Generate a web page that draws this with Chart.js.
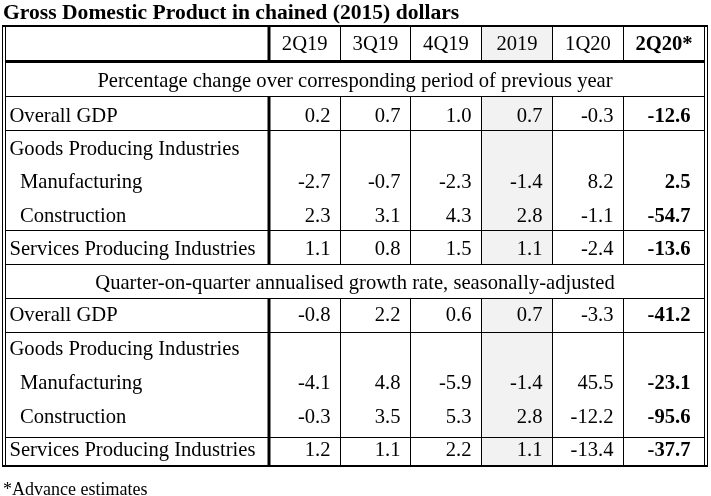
<!DOCTYPE html>
<html><head><meta charset="utf-8">
<script src="https://cdn.jsdelivr.net/npm/chart.js@4"></script>
<style>html,body{margin:0;padding:0;background:#fff}#wrap{width:711px;height:496px}</style>
</head><body><div id="wrap"><canvas id="c" width="711" height="496"></canvas></div>
<script>
// ---------- DATA ----------
const title = 'Gross Domestic Product in chained (2015) dollars';
const footnote = '*Advance estimates';
const columns = ['2Q19', '3Q19', '4Q19', '2019', '1Q20', '2Q20*'];
const sections = [
  'Percentage change over corresponding period of previous year',
  'Quarter-on-quarter annualised growth rate, seasonally-adjusted'
];
const rowLabels = ['Overall GDP', 'Goods Producing Industries', 'Manufacturing', 'Construction', 'Services Producing Industries'];
const yoyOverall       = [0.2, 0.7, 1.0, 0.7, -0.3, -12.6];
const yoyManufacturing = [-2.7, -0.7, -2.3, -1.4, 8.2, 2.5];
const yoyConstruction  = [2.3, 3.1, 4.3, 2.8, -1.1, -54.7];
const yoyServices      = [1.1, 0.8, 1.5, 1.1, -2.4, -13.6];
const qoqOverall       = [-0.8, 2.2, 0.6, 0.7, -3.3, -41.2];
const qoqManufacturing = [-4.1, 4.8, -5.9, -1.4, 45.5, -23.1];
const qoqConstruction  = [-0.3, 3.5, 5.3, 2.8, -12.2, -95.6];
const qoqServices      = [1.2, 1.1, 2.2, 1.1, -13.4, -37.7];

// ---------- LAYOUT (scale units) ----------
const colEdges = [5.5, 269, 340.5, 410.5, 481.5, 552.5, 623.5, 704.5];
const shadedCol = 3;
const FONT = '"Liberation Serif", "Times New Roman", serif';
const BODY = '20.6px ';

function buildRows() {
  return [
    {type: 'section', text: sections[0], baseline: 87},
    {label: rowLabels[0], values: yoyOverall, baseline: 121.5, indent: 0},
    {label: rowLabels[1], values: null, baseline: 155, indent: 0},
    {label: rowLabels[2], values: yoyManufacturing, baseline: 188, indent: 1},
    {label: rowLabels[3], values: yoyConstruction, baseline: 221.5, indent: 1},
    {label: rowLabels[4], values: yoyServices, baseline: 255, indent: 0},
    {type: 'section', text: sections[1], baseline: 288.5},
    {label: rowLabels[0], values: qoqOverall, baseline: 321, indent: 0},
    {label: rowLabels[1], values: null, baseline: 355, indent: 0},
    {label: rowLabels[2], values: qoqManufacturing, baseline: 389, indent: 1},
    {label: rowLabels[3], values: qoqConstruction, baseline: 422.5, indent: 1},
    {label: rowLabels[4], values: qoqServices, baseline: 456, indent: 0}
  ];
}
const gridBands = [[26, 61.5], [96, 264], [298, 466]]; // column-divided bands
const thinH = [96, 130, 230, 264, 298, 332, 437];

const tablePlugin = {
  id: 'tablePlugin',
  afterDraw(chart) {
    const ctx = chart.ctx;
    const xs = chart.scales.x, ys = chart.scales.y;
    const X = v => xs.getPixelForValue(v);
    const Y = v => ys.getPixelForValue(v);
    ctx.save();
    // shaded column
    ctx.fillStyle = '#f2f2f2';
    gridBands.forEach(([a, b]) => {
      ctx.fillRect(X(colEdges[shadedCol + 1]), Y(a), X(colEdges[shadedCol + 2]) - X(colEdges[shadedCol + 1]), Y(b) - Y(a));
    });
    ctx.strokeStyle = '#000';
    const line = (x1, y1, x2, y2, w) => {
      ctx.lineWidth = w; ctx.beginPath();
      ctx.moveTo(X(x1), Y(y1)); ctx.lineTo(X(x2), Y(y2)); ctx.stroke();
    };
    // horizontal lines
    thinH.forEach(y => line(5.5, y + 0.5, 704.5, y + 0.5, 1));
    line(2, 26, 708, 26, 2);
    line(5.5, 61.5, 704.5, 61.5, 3);
    line(2, 466, 708, 466, 2);
    // outer double borders
    [2.5, 5.5, 704.5, 707.5].forEach(x => line(x, 25, x, 467, 1));
    // vertical column lines
    gridBands.forEach(([a, b]) => {
      line(colEdges[1], a, colEdges[1], b, 3);
      for (let i = 2; i < colEdges.length - 1; i++) line(colEdges[i], a, colEdges[i], b, 1);
    });
    // text
    ctx.fillStyle = '#000';
    ctx.textBaseline = 'alphabetic';
    ctx.font = 'bold 21.6px ' + FONT;
    ctx.textAlign = 'left';
    ctx.fillText(title, X(3), Y(19));
    // header
    columns.forEach((c, i) => {
      ctx.font = (i === columns.length - 1 ? 'bold ' : '') + BODY + FONT;
      ctx.textAlign = 'center';
      ctx.fillText(c, X((colEdges[i + 1] + colEdges[i + 2]) / 2), Y(50));
    });
    buildRows().forEach(r => {
      if (r.type === 'section') {
        ctx.font = BODY + FONT; ctx.textAlign = 'center';
        ctx.fillText(r.text, X((colEdges[0] + colEdges[colEdges.length - 1]) / 2), Y(r.baseline));
        return;
      }
      ctx.font = BODY + FONT; ctx.textAlign = 'left';
      ctx.fillText(r.label, X(r.indent ? 20 : 9.5), Y(r.baseline));
      if (r.values) {
        r.values.forEach((v, i) => {
          const last = i === r.values.length - 1;
          ctx.font = (last ? 'bold ' : '') + BODY + FONT;
          ctx.textAlign = 'right';
          ctx.fillText(v.toFixed(1), X(colEdges[i + 2] - (last ? 14 : 10)), Y(r.baseline));
        });
      }
    });
    ctx.font = '18px ' + FONT; ctx.textAlign = 'left';
    ctx.fillText(footnote, X(3), Y(494.5));
    ctx.restore();
  }
};

new Chart(document.getElementById('c'), {
  type: 'scatter',
  data: {datasets: [{data: []}]},
  options: {
    responsive: false, animation: false, devicePixelRatio: 1,
    layout: {padding: 0},
    plugins: {legend: {display: false}, tooltip: {enabled: false}},
    scales: {
      x: {type: 'linear', min: 0, max: 711, display: false},
      y: {type: 'linear', min: 0, max: 496, reverse: true, display: false}
    }
  },
  plugins: [tablePlugin]
});
</script></body></html>
